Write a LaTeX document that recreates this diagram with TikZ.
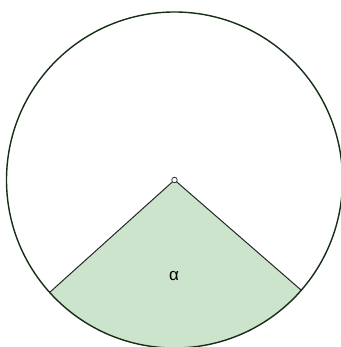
\documentclass[tikz,border=0pt]{standalone}
\usepackage{fontspec}
\setmainfont{Liberation Sans}
\usepackage{tikz}
\usetikzlibrary{positioning,calc}

\definecolor{sectorfill}{RGB}{204,228,204}
\definecolor{rimcol}{RGB}{22,45,22}

\begin{document}
\begin{tikzpicture}[
  x=1pt,y=1pt,
  rim/.style={draw=rimcol,line width=1.4pt},
  radius line/.style={draw=black!85,line width=1pt},
  centre dot/.style={circle,draw=black!80,fill=white,line width=0.8pt,inner sep=0pt,minimum size=5.5pt}
]
\useasboundingbox (0,0) rectangle (340,347);
\coordinate (O) at (174.5,167);
\coordinate (A) at ($(O)+(222:168)$);
\coordinate (B) at ($(O)+(319:168)$);
% shaded sector
\fill[sectorfill] (O) -- (A) arc[start angle=222,end angle=319,radius=168] -- cycle;
\draw[rim] (O) circle[radius=168];
\draw[radius line] (A) -- (O) -- (B);
\node[centre dot] (centre) at (O) {};
\node[font=\fontsize{17}{17}\selectfont] (alpha) at (174,71) {α};
\end{tikzpicture}
\end{document}
